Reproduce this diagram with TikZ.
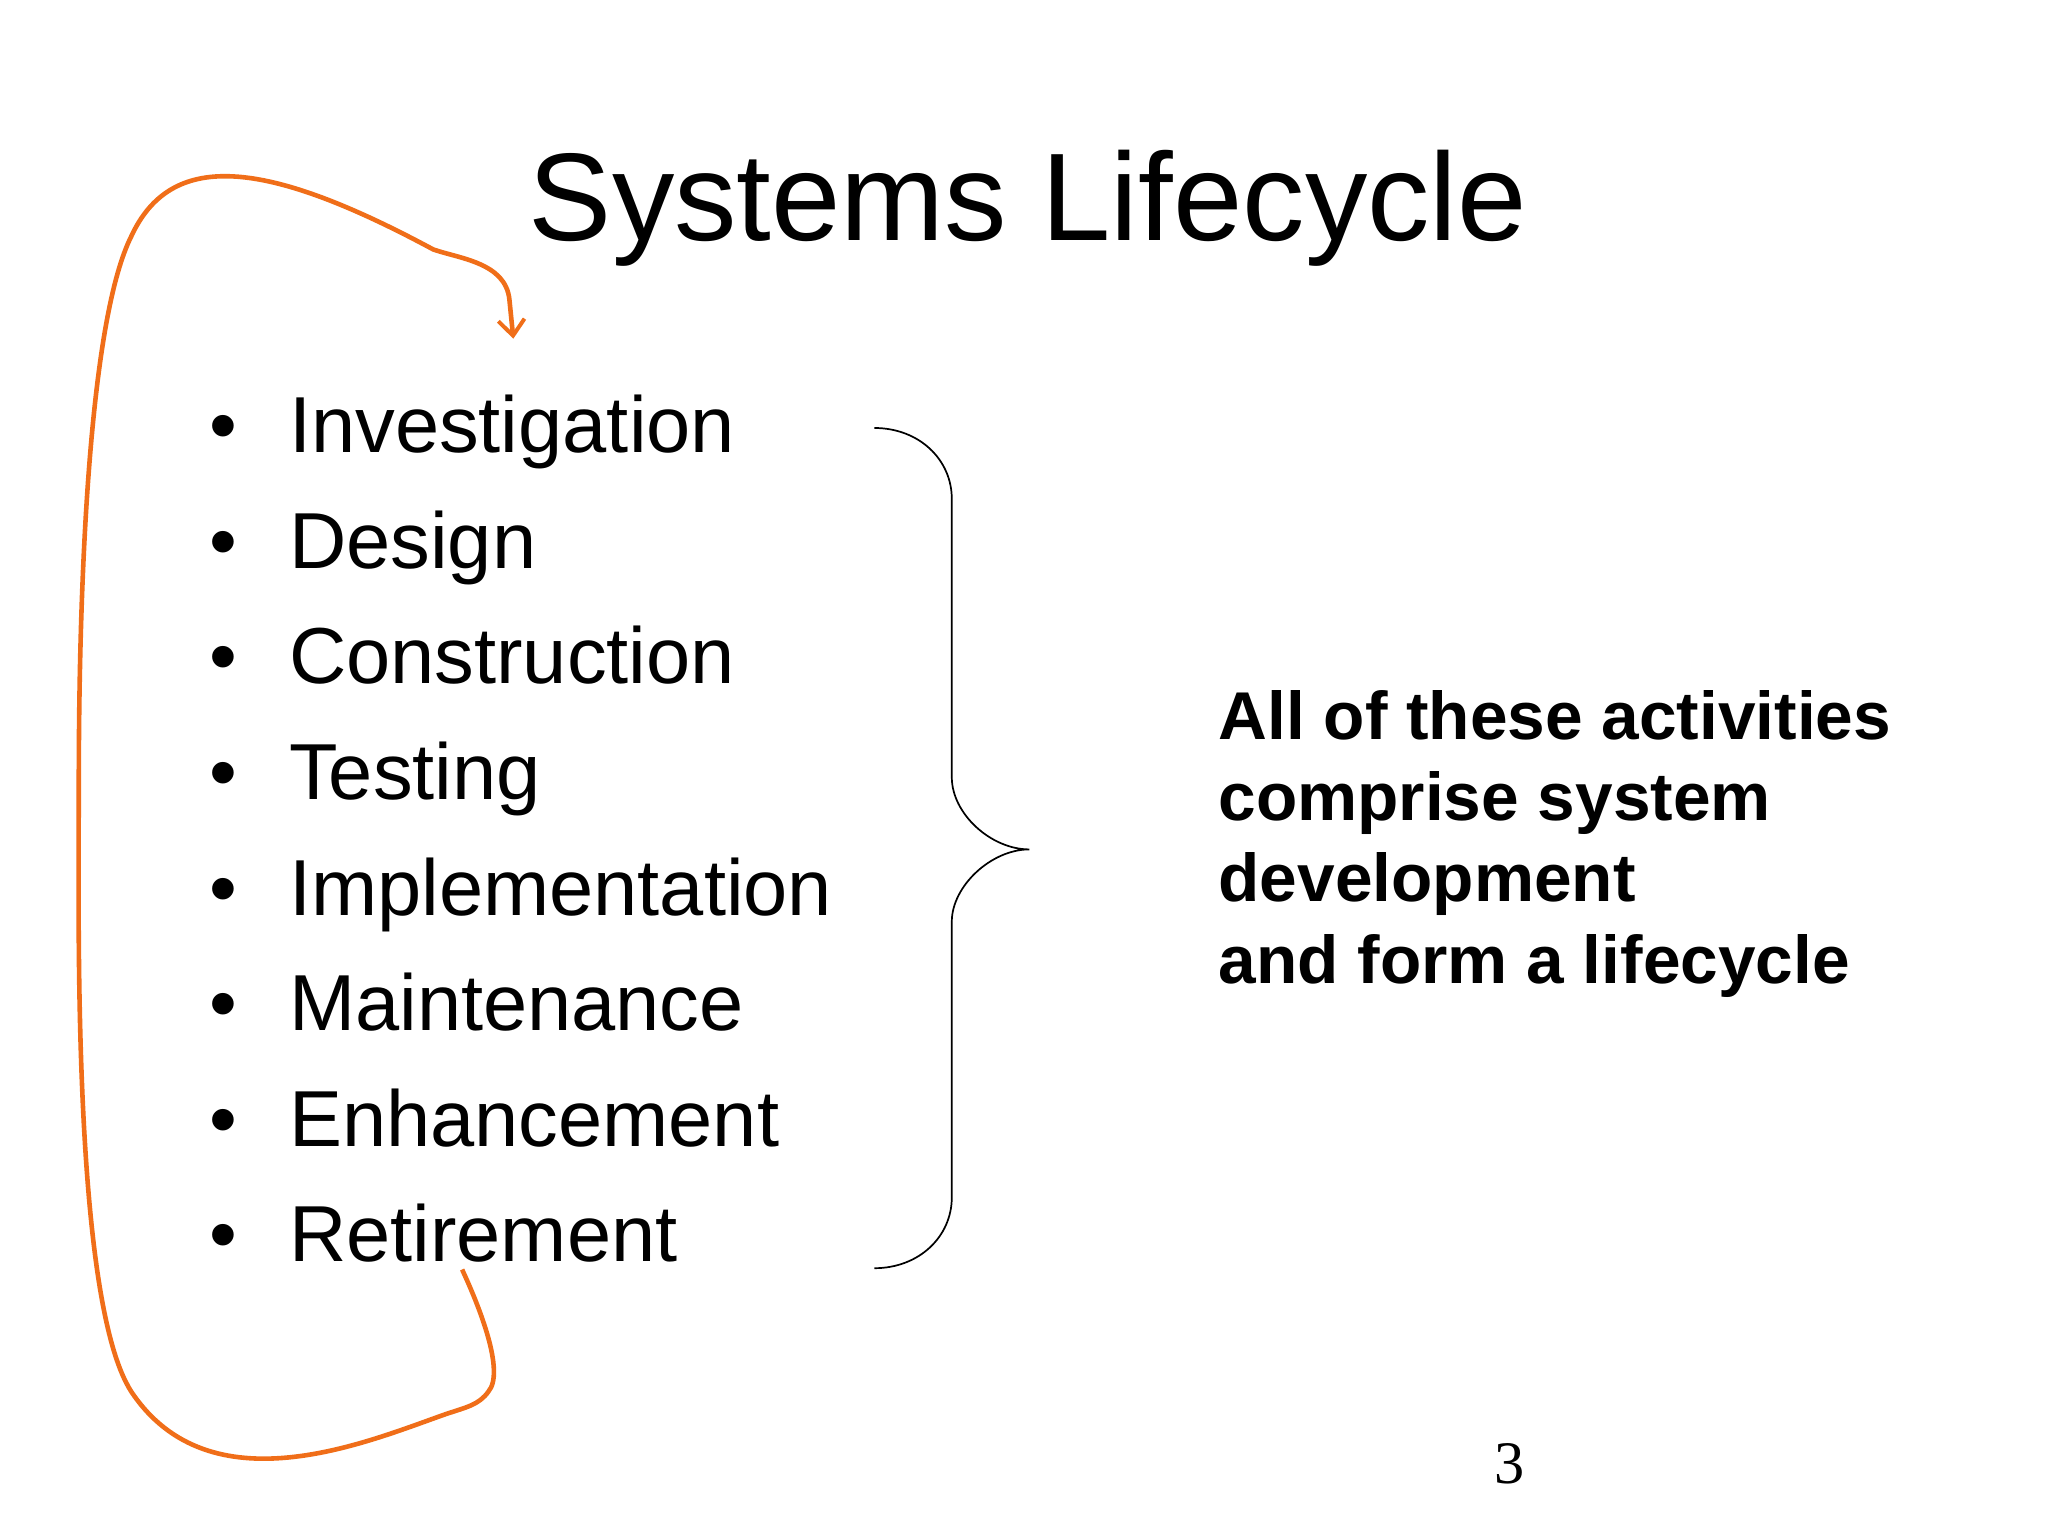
\documentclass[tikz,border=0pt]{standalone}
\usepackage{fontspec}
\setmainfont{Liberation Sans}
\newfontfamily\numfont{Liberation Serif}
\usetikzlibrary{arrows.meta}
\definecolor{orangec}{RGB}{240,110,25}
\tikzset{item/.style={anchor=base west,inner sep=0pt,font=\fontsize{60.5}{70}\selectfont},
 dot/.style={anchor=base,inner sep=0pt,font=\fontsize{60.5}{70}\selectfont},
 side/.style={anchor=base west,inner sep=0pt,font=\bfseries\fontsize{51.5}{62}\selectfont}}
\begin{document}
\begin{tikzpicture}[x=1pt,y=-1pt]
\useasboundingbox[fill=white] (0,0) rectangle (1560,1170);
\node[anchor=base,inner sep=0pt,font=\fontsize{95}{100}\selectfont] (title) at (783,183) {Systems Lifecycle};
\foreach \t [count=\i] in {Investigation,Design,Construction,Testing,Implementation,Maintenance,Enhancement,Retirement}{
  \node[item] (i\i) at (220,{345+88*(\i-1)}) {\t};
  \node[dot] (b\i) at (170,{345+88*(\i-1)}) {\textbullet};
}
\draw[line width=1.3] (666,326) .. controls (700,326) and (725,350) .. (725,380)
 -- (725,592) .. controls (725,620) and (755,647) .. (784,647)
 .. controls (755,647) and (725,675) .. (725,702)
 -- (725,912) .. controls (725,942) and (700,966) .. (666,966);
\node[side] (t1) at (928,563) {All of these activities};
\node[side] (t2) at (928,625) {comprise system};
\node[side] (t3) at (928,687) {development};
\node[side] (t4) at (928,749) {and form a lifecycle};
\node[anchor=base,inner sep=0pt,font=\numfont\fontsize{46}{50}\selectfont] (pg) at (1150,1130) {3};
\coordinate (s) at (352,967);
\coordinate (e) at (391,258);
\draw[orangec,line width=3.5,-{Straight Barb[length=12,width=20,line width=3]}] (s)
 .. controls (365,995) and (385,1045) .. (372,1060)
 .. controls (365,1070) and (355,1072) .. (340,1077)
 .. controls (280,1098) and (160,1150) .. (100,1060)
 .. controls (55,990) and (60,700) .. (60,600)
 .. controls (60,420) and (70,240) .. (100,180)
 .. controls (130,115) and (200,120) .. (330,190)
 .. controls (350,197) and (385,200) .. (388,228)
 -- (e);
\end{tikzpicture}
\end{document}
